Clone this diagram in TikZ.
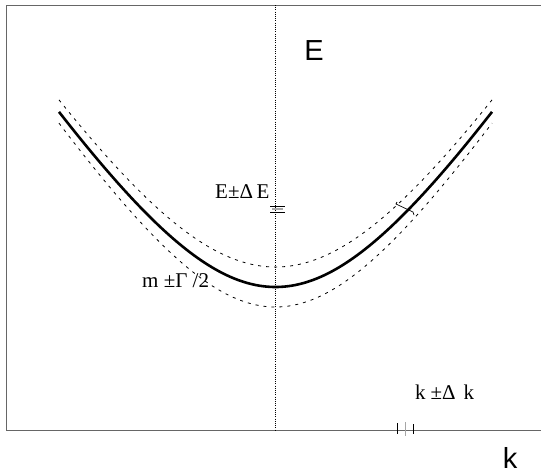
\documentclass[tikz,border=0pt]{standalone}
\usepackage{fontspec}
\setmainfont{Liberation Serif}
\newfontfamily\axisfont{Liberation Sans}
\begin{document}
\begin{tikzpicture}[x=1pt,y=-1pt,
  frameline/.style={draw=black!60,line width=0.9pt},
  axisdots/.style={draw=black,line width=0.6pt,dash pattern=on 1pt off 1.2pt},
  curvemain/.style={draw=black,line width=2.6pt},
  curvedash/.style={draw=black,line width=0.8pt,dash pattern=on 3pt off 5pt},
  tickmark/.style={draw=black,line width=0.7pt},
  tickgray/.style={draw=black!35,line width=1.2pt},
  axlabel/.style={font=\axisfont\fontsize{29}{30}\selectfont,inner sep=0pt},
  serlabel/.style={font=\fontsize{21}{22}\selectfont,inner sep=0pt}]
\useasboundingbox (0,0) rectangle (541,475);
% frame
\coordinate (tl) at (6,5);
\coordinate (tr) at (541,5);
\coordinate (bl) at (6,430);
\coordinate (br) at (541,430);
\draw[frameline] (tr) -- (tl) -- (bl) -- (br);
% vertical axis
\coordinate (vtop) at (275,5);
\coordinate (vbot) at (275,430);
\draw[axisdots] (vtop) -- (vbot);
% curves
\draw[curvemain] plot[domain=59:492,samples=120] (\x,{531-244*sqrt(1+((\x-275.5)/155)^2)});
\draw[curvedash] plot[domain=59:492,samples=120] (\x,{531-264*sqrt(1+((\x-275.5)/167.7)^2)});
\draw[curvedash] plot[domain=59:492,samples=120] (\x,{531-224*sqrt(1+((\x-275.5)/142.3)^2)});
% E ticks
\draw[tickmark] (270,206) -- (285,206);
\draw[tickgray] (272,209) -- (283,209);
\draw[tickmark] (270,212) -- (285,212);
% k ticks
\draw[tickmark] (397,423) -- (397,434);
\draw[tickgray] (405.7,422) -- (405.7,436);
\draw[tickmark] (413,424) -- (413,434);
% width marker on curve
\draw[tickmark] (397,202) -- (396,204) -- (413,212) -- (414,215);
% labels
\node[axlabel] (elab) at (314,51) {E};
\node[axlabel] (klab) at (510,458) {k};
\node[serlabel,anchor=base west] (de) at (215,198) {E±Δ\,E};
\node[serlabel,anchor=base west] (mg) at (142,287) {m ±Γ /2};
\node[serlabel,anchor=base west] (dk) at (415,399) {k\hspace{5pt}±Δ\hspace{8pt}k};
\end{tikzpicture}
\end{document}
